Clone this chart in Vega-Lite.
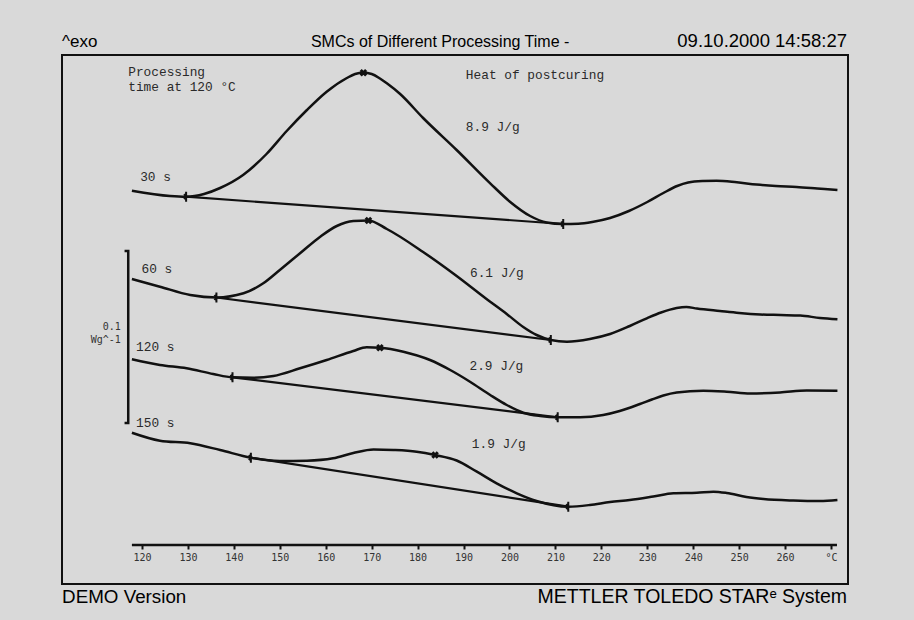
{
  "$schema": "https://vega.github.io/schema/vega-lite/v6.json",
  "width": 786,
  "height": 529,
  "autosize": {"type": "none"},
  "padding": {"left": 62, "top": 55, "right": 66, "bottom": 36},
  "background": "#d9d9d9",
  "config": {"view": {"stroke": "#111111", "strokeWidth": 2, "fill": null}},
  "datasets": {
    "curves": [
      {"s":"30 s","T":117.8,"hf":393.3},{"s":"30 s","T":126.1,"hf":388},{"s":"30 s","T":129.6,"hf":387.3},{"s":"30 s","T":133.5,"hf":390},{"s":"30 s","T":137.0,"hf":396},{"s":"30 s","T":142.0,"hf":409},{"s":"30 s","T":147.1,"hf":430},{"s":"30 s","T":151.5,"hf":453},{"s":"30 s","T":155.9,"hf":474},{"s":"30 s","T":160.2,"hf":492.3},{"s":"30 s","T":164.6,"hf":506},{"s":"30 s","T":166.4,"hf":510},{"s":"30 s","T":168.2,"hf":511.3},{"s":"30 s","T":170.0,"hf":510},{"s":"30 s","T":171.8,"hf":505.5},{"s":"30 s","T":173.3,"hf":500.7},{"s":"30 s","T":176.2,"hf":490},{"s":"30 s","T":181.2,"hf":466},{"s":"30 s","T":188.5,"hf":434},{"s":"30 s","T":195.8,"hf":400.7},{"s":"30 s","T":200.1,"hf":382.3},{"s":"30 s","T":204.5,"hf":368},{"s":"30 s","T":208.1,"hf":361.5},{"s":"30 s","T":211.7,"hf":360},{"s":"30 s","T":215.0,"hf":360.3},{"s":"30 s","T":218.0,"hf":362},{"s":"30 s","T":221.9,"hf":366},{"s":"30 s","T":226.0,"hf":373},{"s":"30 s","T":230.0,"hf":382},{"s":"30 s","T":233.5,"hf":391},{"s":"30 s","T":236.5,"hf":398},{"s":"30 s","T":238.9,"hf":401.5},{"s":"30 s","T":242.0,"hf":403},{"s":"30 s","T":245.1,"hf":403.3},{"s":"30 s","T":249.5,"hf":401.7},{"s":"30 s","T":253.8,"hf":399.5},{"s":"30 s","T":258.0,"hf":398},{"s":"30 s","T":262.5,"hf":397},{"s":"30 s","T":267.0,"hf":395.5},{"s":"30 s","T":271.4,"hf":394},
      {"s":"60 s","T":117.8,"hf":305},{"s":"60 s","T":123.9,"hf":297.3},{"s":"60 s","T":130.5,"hf":289},{"s":"60 s","T":136.2,"hf":286.5},{"s":"60 s","T":142.1,"hf":290.7},{"s":"60 s","T":146.4,"hf":300.7},{"s":"60 s","T":150.0,"hf":314},{"s":"60 s","T":154.4,"hf":330.7},{"s":"60 s","T":158.8,"hf":347.3},{"s":"60 s","T":162.4,"hf":358},{"s":"60 s","T":166.0,"hf":363},{"s":"60 s","T":169.3,"hf":363.5},{"s":"60 s","T":173.3,"hf":355},{"s":"60 s","T":181.2,"hf":332},{"s":"60 s","T":188.5,"hf":308},{"s":"60 s","T":195.0,"hf":285},{"s":"60 s","T":199.4,"hf":270},{"s":"60 s","T":203.0,"hf":257},{"s":"60 s","T":205.9,"hf":249},{"s":"60 s","T":209.0,"hf":244},{"s":"60 s","T":212.5,"hf":242.3},{"s":"60 s","T":217.5,"hf":245},{"s":"60 s","T":221.9,"hf":250},{"s":"60 s","T":226.2,"hf":258},{"s":"60 s","T":229.9,"hf":265.7},{"s":"60 s","T":233.0,"hf":271.5},{"s":"60 s","T":236.4,"hf":276},{"s":"60 s","T":238.5,"hf":277},{"s":"60 s","T":240.8,"hf":275.5},{"s":"60 s","T":245.8,"hf":273},{"s":"60 s","T":250.0,"hf":271},{"s":"60 s","T":254.6,"hf":269.5},{"s":"60 s","T":259.0,"hf":269},{"s":"60 s","T":263.3,"hf":268.5},{"s":"60 s","T":267.6,"hf":266},{"s":"60 s","T":271.4,"hf":264.7},
      {"s":"120 s","T":117.8,"hf":224.7},{"s":"120 s","T":123.9,"hf":219},{"s":"120 s","T":129.7,"hf":215.7},{"s":"120 s","T":135.5,"hf":210},{"s":"120 s","T":139.7,"hf":206.7},{"s":"120 s","T":144.2,"hf":206.3},{"s":"120 s","T":148.6,"hf":208},{"s":"120 s","T":154.4,"hf":215.7},{"s":"120 s","T":160.2,"hf":224},{"s":"120 s","T":166.0,"hf":233},{"s":"120 s","T":168.9,"hf":236.8},{"s":"120 s","T":171.8,"hf":236.3},{"s":"120 s","T":176.9,"hf":232.3},{"s":"120 s","T":182.7,"hf":224},{"s":"120 s","T":187.1,"hf":214},{"s":"120 s","T":191.4,"hf":202.3},{"s":"120 s","T":195.8,"hf":189},{"s":"120 s","T":199.4,"hf":179},{"s":"120 s","T":203.0,"hf":171.3},{"s":"120 s","T":206.7,"hf":168},{"s":"120 s","T":210.5,"hf":166.7},{"s":"120 s","T":215.4,"hf":166.7},{"s":"120 s","T":220.4,"hf":169},{"s":"120 s","T":224.0,"hf":173},{"s":"120 s","T":228.4,"hf":180},{"s":"120 s","T":231.0,"hf":184.5},{"s":"120 s","T":233.5,"hf":188.5},{"s":"120 s","T":236.4,"hf":191.5},{"s":"120 s","T":242.2,"hf":193.3},{"s":"120 s","T":247.3,"hf":192.3},{"s":"120 s","T":252.4,"hf":190.5},{"s":"120 s","T":258.9,"hf":191.5},{"s":"120 s","T":264.7,"hf":193.5},{"s":"120 s","T":271.4,"hf":193.3},
      {"s":"150 s","T":117.8,"hf":151.3},{"s":"150 s","T":123.9,"hf":143.3},{"s":"150 s","T":130.5,"hf":140.7},{"s":"150 s","T":137.0,"hf":134},{"s":"150 s","T":143.7,"hf":126.3},{"s":"150 s","T":150.0,"hf":123},{"s":"150 s","T":155.9,"hf":123.3},{"s":"150 s","T":161.6,"hf":125.7},{"s":"150 s","T":166.0,"hf":131},{"s":"150 s","T":170.4,"hf":134.5},{"s":"150 s","T":174.7,"hf":134},{"s":"150 s","T":179.8,"hf":132.3},{"s":"150 s","T":183.8,"hf":129},{"s":"150 s","T":188.5,"hf":123.5},{"s":"150 s","T":192.9,"hf":112.3},{"s":"150 s","T":197.2,"hf":100.7},{"s":"150 s","T":201.6,"hf":90.7},{"s":"150 s","T":205.9,"hf":83},{"s":"150 s","T":212.8,"hf":77.3},{"s":"150 s","T":217.5,"hf":79},{"s":"150 s","T":221.9,"hf":82},{"s":"150 s","T":226.2,"hf":84},{"s":"150 s","T":231.3,"hf":87.5},{"s":"150 s","T":235.7,"hf":90.8},{"s":"150 s","T":240.8,"hf":91.3},{"s":"150 s","T":244.4,"hf":92.3},{"s":"150 s","T":247.3,"hf":91},{"s":"150 s","T":251.6,"hf":87},{"s":"150 s","T":255.3,"hf":85},{"s":"150 s","T":261.8,"hf":83.5},{"s":"150 s","T":267.6,"hf":83},{"s":"150 s","T":271.4,"hf":84}
    ],
    "baselines": [
      {"s":"30 s","T":129.6,"hf":387.3},{"s":"30 s","T":211.7,"hf":360},
      {"s":"60 s","T":136.2,"hf":286.5},{"s":"60 s","T":209.0,"hf":244},
      {"s":"120 s","T":139.7,"hf":206.7},{"s":"120 s","T":210.5,"hf":166.7},
      {"s":"150 s","T":143.7,"hf":126.3},{"s":"150 s","T":212.8,"hf":77.3}
    ],
    "limits": [
      {"s":"30 s","T":129.6,"hf":387.3},{"s":"30 s","T":211.7,"hf":360},
      {"s":"60 s","T":136.2,"hf":286.5},{"s":"60 s","T":209.0,"hf":244},
      {"s":"120 s","T":139.7,"hf":206.7},{"s":"120 s","T":210.5,"hf":166.7},
      {"s":"150 s","T":143.7,"hf":126.3},{"s":"150 s","T":212.8,"hf":77.3}
    ],
    "peaks": [
      {"s":"30 s","T":168.2,"hf":511.3},{"s":"60 s","T":169.3,"hf":363.5},{"s":"120 s","T":171.8,"hf":236.3},{"s":"150 s","T":183.8,"hf":129}
    ],
    "bracket": [
      {"o":1,"T":116.2,"hf":333},{"o":2,"T":117.0,"hf":333},{"o":3,"T":117.0,"hf":161},{"o":4,"T":116.2,"hf":161}
    ],
    "axisline": [{"T":117.8,"T2":271.3,"hf":39}],
    "notes": [
      {"label":"Processing","T":117.0,"hf":512},
      {"label":"time at 120 °C","T":117.0,"hf":497},
      {"label":"Heat of postcuring","T":190.5,"hf":509},
      {"label":"8.9 J/g","T":190.5,"hf":457.3},
      {"label":"30 s","T":119.6,"hf":407.3},
      {"label":"60 s","T":119.9,"hf":314.7},
      {"label":"120 s","T":118.7,"hf":236.7},
      {"label":"150 s","T":118.7,"hf":160.7},
      {"label":"6.1 J/g","T":191.4,"hf":310.7},
      {"label":"2.9 J/g","T":191.3,"hf":218.3},
      {"label":"1.9 J/g","T":191.8,"hf":140}
    ],
    "scalelabels": [
      {"label":"0.1","T":115.4,"hf":256.7},
      {"label":"Wg^-1","T":115.4,"hf":244}
    ],
    "headleft": [
      {"label":"^exo","T":102.6,"hf":537}
    ],
    "footleft": [
      {"label":"DEMO Version","T":102.6,"hf":-19}
    ],
    "headcenter": [
      {"label":"SMCs of Different Processing Time -","T":184.9,"hf":537}
    ],
    "headright": [
      {"label":"09.10.2000 14:58:27","T":273.5,"hf":537}
    ],
    "footright": [
      {"label":"METTLER  TOLEDO  STARᵉ System","T":273.5,"hf":-19}
    ]
  },
  "encoding": {
    "x": {
      "field": "T", "type": "quantitative",
      "scale": {"domain": [102.58, 273.7], "nice": false, "zero": false},
      "axis": {
        "values": [120,130,140,150,160,170,180,190,200,210,220,230,240,250,260,270],
        "labelExpr": "datum.value == 270 ? '°C' : datum.label",
        "format": "d",
        "domain": false, "grid": false, "title": null,
        "ticks": true, "tickSize": 4, "tickWidth": 2, "tickColor": "#111111",
        "labelFont": "DejaVu Sans Mono", "labelFontSize": 10, "labelColor": "#333333",
        "labelPadding": 3, "labelFlush": false, "labelOverlap": false,
        "offset": -39
      }
    },
    "y": {
      "field": "hf", "type": "quantitative",
      "scale": {"domain": [0, 529], "nice": false, "zero": false},
      "axis": null
    }
  },
  "layer": [
    {"data": {"name": "axisline"}, "mark": {"type": "rule", "strokeWidth": 2.5, "color": "#111111"},
     "encoding": {"x2": {"field": "T2"}}},
    {"data": {"name": "baselines"}, "mark": {"type": "line", "strokeWidth": 2.2, "color": "#111111"},
     "encoding": {"detail": {"field": "s"}}},
    {"data": {"name": "curves"}, "mark": {"type": "line", "interpolate": "monotone", "strokeWidth": 2.5, "color": "#111111"},
     "encoding": {"detail": {"field": "s"}}},
    {"data": {"name": "bracket"}, "mark": {"type": "line", "strokeWidth": 2.5, "color": "#111111"},
     "encoding": {"order": {"field": "o"}}},
    {"data": {"name": "limits"}, "mark": {"type": "point", "shape": "M0,-1L0,1M-0.4,-0.5L0,0L-0.4,0.5", "size": 100, "filled": false, "stroke": "#111111", "strokeWidth": 2, "opacity": 1}},
    {"data": {"name": "peaks"}, "mark": {"type": "point", "shape": "M-1,-1L1,1M-1,1L1,-1", "size": 30, "filled": false, "stroke": "#111111", "strokeWidth": 3, "opacity": 1}},
    {"data": {"name": "notes"}, "mark": {"type": "text", "font": "Liberation Mono", "fontSize": 12.8, "align": "left", "baseline": "middle", "color": "#2a2a2a"},
     "encoding": {"text": {"field": "label"}}},
    {"data": {"name": "scalelabels"}, "mark": {"type": "text", "font": "DejaVu Sans Mono", "fontSize": 10, "align": "right", "baseline": "middle", "color": "#333333"},
     "encoding": {"text": {"field": "label"}}},
    {"data": {"name": "headleft"}, "mark": {"type": "text", "font": "Liberation Sans", "fontSize": 17, "align": "left", "baseline": "alphabetic", "color": "#000000"},
     "encoding": {"text": {"field": "label"}}},
    {"data": {"name": "footleft"}, "mark": {"type": "text", "font": "Liberation Sans", "fontSize": 18.8, "align": "left", "baseline": "alphabetic", "color": "#000000"},
     "encoding": {"text": {"field": "label"}}},
    {"data": {"name": "headcenter"}, "mark": {"type": "text", "font": "Liberation Sans", "fontSize": 16, "align": "center", "baseline": "alphabetic", "color": "#000000"},
     "encoding": {"text": {"field": "label"}}},
    {"data": {"name": "headright"}, "mark": {"type": "text", "font": "Liberation Sans", "fontSize": 18.5, "align": "right", "baseline": "alphabetic", "color": "#000000"},
     "encoding": {"text": {"field": "label"}}},
    {"data": {"name": "footright"}, "mark": {"type": "text", "font": "Liberation Sans", "fontSize": 19.5, "align": "right", "baseline": "alphabetic", "color": "#000000"},
     "encoding": {"text": {"field": "label"}}}
  ]
}
